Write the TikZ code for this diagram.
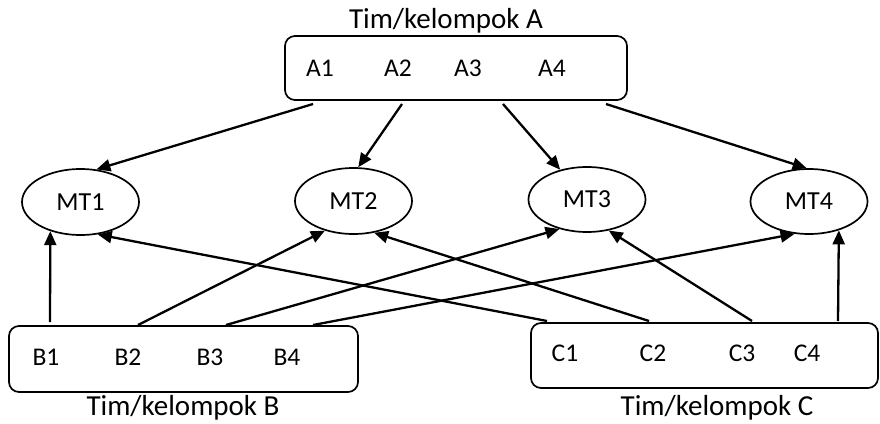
\documentclass[tikz,border=0pt]{standalone}
\usepackage{fontspec}
\setmainfont{Carlito}
\usetikzlibrary{arrows.meta,shapes.geometric}
\begin{document}
\begin{tikzpicture}[x=1pt,y=-1pt,
  grp/.style={draw,line width=1.7pt,rounded corners=10pt,inner sep=0pt},
  mt/.style={draw,ellipse,line width=1.7pt,minimum width=117pt,minimum height=66pt,inner sep=0pt,font=\fontsize{26}{30}\selectfont},
  lbl/.style={anchor=base,inner sep=0pt,font=\fontsize{25.5}{30}\selectfont},
  ttl/.style={anchor=base,inner sep=0pt,font=\fontsize{29}{34}\selectfont},
  arr/.style={line width=2.3pt,-{Triangle[length=14pt,width=12pt]}}]
\useasboundingbox (0,0) rectangle (880,423);

% group boxes
\node[grp,minimum width=342pt,minimum height=64pt] (A) at (456,68) {};
\node[grp,minimum width=349pt,minimum height=66pt] (B) at (183.5,359) {};
\node[grp,minimum width=347pt,minimum height=65pt] (C) at (704.5,355.5) {};

% titles
\node[ttl] (tA) at (446,28) {Tim/kelompok A};
\node[ttl] (tB) at (183,415.5) {Tim/kelompok B};
\node[ttl] (tC) at (717,415.5) {Tim/kelompok C};

% member labels
\node[lbl] (lA1) at (320,76) {A1};
\node[lbl] (lA2) at (398,76) {A2};
\node[lbl] (lA3) at (468,76) {A3};
\node[lbl] (lA4) at (552,76) {A4};
\node[lbl] (lB1) at (46,365) {B1};
\node[lbl] (lB2) at (128,365) {B2};
\node[lbl] (lB3) at (210,365) {B3};
\node[lbl] (lB4) at (287,365) {B4};
\node[lbl] (lC1) at (565,361.5) {C1};
\node[lbl] (lC2) at (653,361.5) {C2};
\node[lbl] (lC3) at (742,361.5) {C3};
\node[lbl] (lC4) at (807,361.5) {C4};

% ellipses
\node[mt] (mt1) at (80.5,202) {MT1};
\node[mt] (mt2) at (353.5,201) {MT2};
\node[mt,minimum height=65pt] (mt3) at (587,199.5) {MT3};
\node[mt,minimum height=65pt] (mt4) at (809,201.5) {MT4};

% connector start points
\coordinate (a1) at (313,104);
\coordinate (a2) at (402,104);
\coordinate (a3) at (503,104);
\coordinate (a4) at (606,104);
\coordinate (b1) at (50,322);
\coordinate (b2) at (138,325);
\coordinate (b3) at (226,325);
\coordinate (b4) at (313,325);
\coordinate (c1) at (547,321);
\coordinate (c2) at (649,321);
\coordinate (c3) at (752,321);
\coordinate (c4) at (838,321);

% connectors
\draw[arr] (a1) -- (mt1.64);
\draw[arr] (a2) -- (mt2.82);
\draw[arr] (a3) -- (mt3.132);
\draw[arr] (a4) -- (mt4.94);
\draw[arr] (b1) -- (mt1.224);
\draw[arr] (b2) -- (mt2.226);
\draw[arr] (b3) -- (mt3.227);
\draw[arr] (b4) -- (mt4.246);
\draw[arr] (c1) -- (mt1.298);
\draw[arr] (c2) -- (mt2.303);
\draw[arr] (c3) -- (mt3.305);
\draw[arr] (c4) -- (mt4.316);
\end{tikzpicture}
\end{document}
